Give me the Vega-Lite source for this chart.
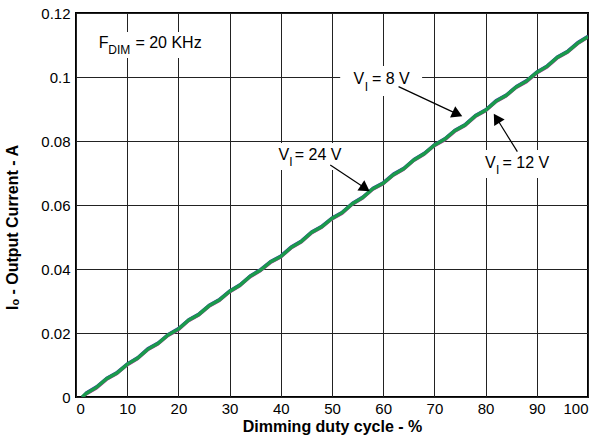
{
  "$schema": "https://vega.github.io/schema/vega-lite/v6.json",
  "width": 512,
  "height": 384,
  "autosize": "none",
  "padding": {"left": 76, "top": 13, "right": 22, "bottom": 45},
  "background": "white",
  "config": {
    "font": "Liberation Sans",
    "view": {"stroke": "#000", "strokeWidth": 2},
    "axis": {
      "grid": true,
      "gridColor": "#222",
      "gridWidth": 1,
      "gridOpacity": 1,
      "ticks": false,
      "domain": false,
      "labelColor": "#000",
      "labelFontSize": 15,
      "labelFont": "Liberation Sans",
      "titleColor": "#000",
      "titleFont": "Liberation Sans",
      "titleFontSize": 16,
      "titleFontWeight": "bold"
    }
  },
  "datasets": {
    "curves": [
      {"d": 1.2, "v8": 0, "v12": 0, "v24": 0},
      {"d": 2, "v8": 0.0014, "v12": 0.0008, "v24": 0.0011},
      {"d": 4, "v8": 0.0033, "v12": 0.0027, "v24": 0.0030},
      {"d": 6, "v8": 0.0060, "v12": 0.0054, "v24": 0.0057},
      {"d": 8, "v8": 0.0078, "v12": 0.0072, "v24": 0.0075},
      {"d": 10, "v8": 0.0105, "v12": 0.0099, "v24": 0.0102},
      {"d": 12, "v8": 0.0124, "v12": 0.0118, "v24": 0.0121},
      {"d": 14, "v8": 0.0152, "v12": 0.0146, "v24": 0.0149},
      {"d": 16, "v8": 0.0170, "v12": 0.0164, "v24": 0.0167},
      {"d": 18, "v8": 0.0197, "v12": 0.0191, "v24": 0.0194},
      {"d": 20, "v8": 0.0215, "v12": 0.0209, "v24": 0.0212},
      {"d": 22, "v8": 0.0243, "v12": 0.0237, "v24": 0.0240},
      {"d": 24, "v8": 0.0261, "v12": 0.0255, "v24": 0.0258},
      {"d": 26, "v8": 0.0288, "v12": 0.0282, "v24": 0.0285},
      {"d": 28, "v8": 0.0306, "v12": 0.0300, "v24": 0.0303},
      {"d": 30, "v8": 0.0333, "v12": 0.0327, "v24": 0.0330},
      {"d": 32, "v8": 0.0352, "v12": 0.0346, "v24": 0.0349},
      {"d": 34, "v8": 0.0380, "v12": 0.0374, "v24": 0.0377},
      {"d": 36, "v8": 0.0399, "v12": 0.0393, "v24": 0.0396},
      {"d": 38, "v8": 0.0425, "v12": 0.0419, "v24": 0.0422},
      {"d": 40, "v8": 0.0442, "v12": 0.0436, "v24": 0.0439},
      {"d": 42, "v8": 0.0470, "v12": 0.0464, "v24": 0.0467},
      {"d": 44, "v8": 0.0489, "v12": 0.0483, "v24": 0.0486},
      {"d": 46, "v8": 0.0517, "v12": 0.0511, "v24": 0.0514},
      {"d": 48, "v8": 0.0535, "v12": 0.0529, "v24": 0.0532},
      {"d": 50, "v8": 0.0561, "v12": 0.0555, "v24": 0.0558},
      {"d": 52, "v8": 0.0579, "v12": 0.0573, "v24": 0.0576},
      {"d": 54, "v8": 0.0607, "v12": 0.0601, "v24": 0.0604},
      {"d": 56, "v8": 0.0626, "v12": 0.0620, "v24": 0.0623},
      {"d": 58, "v8": 0.0654, "v12": 0.0648, "v24": 0.0651},
      {"d": 60, "v8": 0.0671, "v12": 0.0665, "v24": 0.0668},
      {"d": 62, "v8": 0.0698, "v12": 0.0692, "v24": 0.0695},
      {"d": 64, "v8": 0.0716, "v12": 0.0710, "v24": 0.0713},
      {"d": 66, "v8": 0.0744, "v12": 0.0738, "v24": 0.0741},
      {"d": 68, "v8": 0.0763, "v12": 0.0757, "v24": 0.0760},
      {"d": 70, "v8": 0.0790, "v12": 0.0784, "v24": 0.0787},
      {"d": 72, "v8": 0.0808, "v12": 0.0802, "v24": 0.0805},
      {"d": 74, "v8": 0.0835, "v12": 0.0829, "v24": 0.0832},
      {"d": 76, "v8": 0.0853, "v12": 0.0847, "v24": 0.0850},
      {"d": 78, "v8": 0.0881, "v12": 0.0875, "v24": 0.0878},
      {"d": 80, "v8": 0.0899, "v12": 0.0893, "v24": 0.0896},
      {"d": 82, "v8": 0.0927, "v12": 0.0921, "v24": 0.0924},
      {"d": 84, "v8": 0.0945, "v12": 0.0939, "v24": 0.0942},
      {"d": 86, "v8": 0.0972, "v12": 0.0966, "v24": 0.0969},
      {"d": 88, "v8": 0.0990, "v12": 0.0984, "v24": 0.0987},
      {"d": 90, "v8": 0.1017, "v12": 0.1011, "v24": 0.1014},
      {"d": 92, "v8": 0.1036, "v12": 0.1030, "v24": 0.1033},
      {"d": 94, "v8": 0.1064, "v12": 0.1058, "v24": 0.1061},
      {"d": 96, "v8": 0.1082, "v12": 0.1076, "v24": 0.1079},
      {"d": 98, "v8": 0.1109, "v12": 0.1103, "v24": 0.1106},
      {"d": 100, "v8": 0.1129, "v12": 0.1123, "v24": 0.1126}
    ],
    "boxes": [
      {"x": 3.6, "x2": 25.6, "y": 0.1141, "y2": 0.1059},
      {"x": 51.6, "x2": 67.6, "y": 0.1034, "y2": 0.0941},
      {"x": 38.9, "x2": 52.6, "y": 0.0794, "y2": 0.0709},
      {"x": 79.1, "x2": 93.0, "y": 0.0772, "y2": 0.0684}
    ],
    "arrows": [
      {"id": "8", "x": 63.0, "y": 0.0970, "x2": 74.5, "y2": 0.0884},
      {"id": "12", "x": 86.2, "y": 0.0767, "x2": 82.15, "y2": 0.0871},
      {"id": "24", "x": 49.66, "y": 0.0725, "x2": 56.5, "y2": 0.0652}
    ],
    "labels": [
      {"x": 4.45, "y": 0.1105, "t": "F"},
      {"x": 11.6, "y": 0.1105, "t": "= 20 KHz"},
      {"x": 54.2, "y": 0.0993, "t": "V"},
      {"x": 57.8, "y": 0.0993, "t": "= 8 V"},
      {"x": 79.9, "y": 0.0730, "t": "V"},
      {"x": 83.3, "y": 0.0730, "t": "= 12 V"},
      {"x": 39.57, "y": 0.0756, "t": "V"},
      {"x": 42.73, "y": 0.0756, "t": "= 24 V"}
    ],
    "subs": [
      {"x": 6.3, "y": 0.1085, "t": "DIM"},
      {"x": 56.4, "y": 0.0970, "t": "I"},
      {"x": 82.05, "y": 0.0709, "t": "I"},
      {"x": 41.66, "y": 0.0734, "t": "I"}
    ]
  },
  "layer": [
    {
      "data": {"name": "boxes"},
      "mark": {"type": "rect", "fill": "white", "stroke": null},
      "encoding": {
        "x": {"field": "x", "type": "quantitative"},
        "x2": {"field": "x2"},
        "y": {"field": "y", "type": "quantitative"},
        "y2": {"field": "y2"}
      }
    },
    {
      "data": {"name": "curves"},
      "transform": [
        {"fold": ["v8", "v12"], "as": ["series", "current"]}
      ],
      "mark": {"type": "line", "clip": true, "strokeWidth": 2.5},
      "encoding": {
        "x": {
          "field": "d",
          "type": "quantitative",
          "scale": {"domain": [0, 100], "nice": false},
          "axis": {
            "values": [0, 10, 20, 30, 40, 50, 60, 70, 80, 90, 100],
            "title": "Dimming duty cycle - %",
            "labelPadding": 4,
            "titlePadding": 2
          }
        },
        "y": {
          "field": "current",
          "type": "quantitative",
          "scale": {"domain": [0, 0.12], "nice": false, "zero": true},
          "axis": {
            "values": [0, 0.02, 0.04, 0.06, 0.08, 0.1, 0.12],
            "format": "~g",
            "title": "Iₒ - Output Current - A",
            "labelPadding": 6,
            "titleX": -56,
            "titleY": 214
          }
        },
        "color": {
          "field": "series",
          "type": "nominal",
          "scale": {"domain": ["v8", "v12", "v24"], "range": ["#3c3ca8", "#c0329c", "#1a9a4c"]},
          "legend": null
        }
      }
    },
    {
      "data": {"name": "curves"},
      "transform": [
        {"fold": ["v24"], "as": ["series", "current"]}
      ],
      "mark": {"type": "line", "clip": true, "strokeWidth": 3.5},
      "encoding": {
        "x": {"field": "d", "type": "quantitative"},
        "y": {"field": "current", "type": "quantitative"},
        "color": {"field": "series", "type": "nominal", "legend": null}
      }
    },
    {
      "data": {"name": "arrows"},
      "mark": {"type": "rule", "color": "#000", "strokeWidth": 1.2},
      "encoding": {
        "x": {"field": "x", "type": "quantitative"},
        "y": {"field": "y", "type": "quantitative"},
        "x2": {"field": "x2"},
        "y2": {"field": "y2"}
      }
    },
    {
      "data": {"name": "arrows"},
      "transform": [{"filter": "datum.id === '8'"}],
      "mark": {"type": "point", "shape": "triangle-up", "filled": true, "color": "#000", "size": 150, "angle": 115, "opacity": 1},
      "encoding": {
        "x": {"field": "x2", "type": "quantitative"},
        "y": {"field": "y2", "type": "quantitative"}
      }
    },
    {
      "data": {"name": "arrows"},
      "transform": [{"filter": "datum.id === '12'"}],
      "mark": {"type": "point", "shape": "triangle-up", "filled": true, "color": "#000", "size": 150, "angle": 328, "opacity": 1},
      "encoding": {
        "x": {"field": "x2", "type": "quantitative"},
        "y": {"field": "y2", "type": "quantitative"}
      }
    },
    {
      "data": {"name": "arrows"},
      "transform": [{"filter": "datum.id === '24'"}],
      "mark": {"type": "point", "shape": "triangle-up", "filled": true, "color": "#000", "size": 150, "angle": 124, "opacity": 1},
      "encoding": {
        "x": {"field": "x2", "type": "quantitative"},
        "y": {"field": "y2", "type": "quantitative"}
      }
    },
    {
      "data": {"name": "labels"},
      "mark": {"type": "text", "align": "left", "baseline": "middle", "fontSize": 16, "color": "#000"},
      "encoding": {
        "x": {"field": "x", "type": "quantitative"},
        "y": {"field": "y", "type": "quantitative"},
        "text": {"field": "t"}
      }
    },
    {
      "data": {"name": "subs"},
      "mark": {"type": "text", "align": "left", "baseline": "middle", "fontSize": 12, "color": "#000"},
      "encoding": {
        "x": {"field": "x", "type": "quantitative"},
        "y": {"field": "y", "type": "quantitative"},
        "text": {"field": "t"}
      }
    }
  ]
}
